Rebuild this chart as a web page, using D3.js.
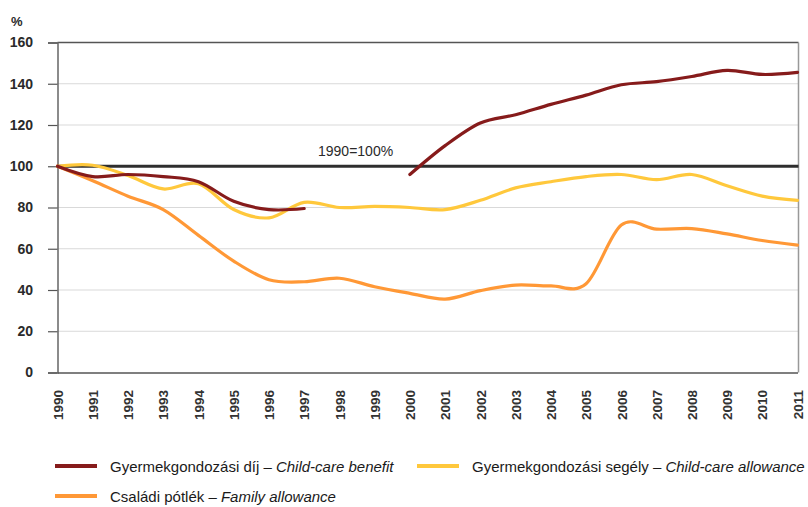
<!DOCTYPE html>
<html><head><meta charset="utf-8">
<script src="https://cdn.jsdelivr.net/npm/d3@7"></script>
<style>
body{margin:0;background:#fff;}
svg{display:block;font-family:"Liberation Sans",Arial,sans-serif;}
</style></head>
<body><svg id="c" width="808" height="507"></svg>
<script>
const years = [1990,1991,1992,1993,1994,1995,1996,1997,1998,1999,2000,2001,2002,2003,2004,2005,2006,2007,2008,2009,2010,2011];
const childCareBenefit = [100,95,96,95,92.5,83,79,79.5,null,null,96,110,121,125,130,134.5,139.5,141,143.5,146.5,144.5,145.5];
const childCareAllowance = [100,100.5,95.5,89,91.5,79,75,82.5,80,80.5,80,79,83.5,89.5,92.5,95,96,93.5,96,90.5,85.5,83.5];
const familyAllowance = [100,93,85.5,79,66.5,54,45,44,45.7,41.6,38.4,35.6,39.7,42.4,42,43,71.5,69.5,69.8,67.2,64,61.8];
const yTicks = [0,20,40,60,80,100,120,140,160];
const seriesNames = ["Gyermekgondozási díj – ","Gyermekgondozási segély – ","Családi pótlék – "];
const seriesNamesEn = ["Child-care benefit","Child-care allowance","Family allowance"];
const colors = ["#861b1b","#ffc83c","#ff9836"];

const svg = d3.select("#c");
const L=57.5, R=797.5, T=42.5, B=372.5;
const x = d3.scalePoint().domain(years).range([L,R]);
const y = d3.scaleLinear().domain([0,160]).range([B,T]);

// gridlines
svg.append("g").selectAll("line").data(yTicks.filter(d=>d>0 && d<160)).join("line")
  .attr("x1",L).attr("x2",R+1).attr("y1",d=>y(d)).attr("y2",d=>y(d))
  .attr("stroke","#d9d9d9").attr("stroke-width",1.2);

// frame
svg.append("line").attr("x1",L).attr("x2",R+1).attr("y1",T).attr("y2",T).attr("stroke","#555").attr("stroke-width",1.3);
svg.append("line").attr("x1",R+1).attr("x2",R+1).attr("y1",T).attr("y2",B).attr("stroke","#999").attr("stroke-width",1.5);

// y axis
const yAxis = d3.axisLeft(y).tickValues(yTicks).tickSize(9.5).tickPadding(15).tickFormat(d3.format("d"));
const ga = svg.append("g").attr("transform",`translate(${L},0)`).call(yAxis);
ga.select(".domain").attr("stroke","#666").attr("stroke-width",1.5);
ga.selectAll(".tick line").attr("stroke","#555").attr("stroke-width",1.2);
ga.selectAll(".tick text").attr("font-size",14).attr("font-weight","bold").attr("fill","#2a2a2a").attr("font-family","Liberation Sans, Arial");

// x axis
const xAxis = d3.axisBottom(x).tickSize(0).tickPadding(0);
const gx = svg.append("g").attr("transform",`translate(0,${B})`).call(xAxis);
gx.select(".domain").attr("stroke","#555").attr("stroke-width",1.5);
gx.selectAll(".tick text").attr("font-size",13.5).attr("font-weight","bold").attr("fill","#333")
  .attr("font-family","Liberation Sans, Arial")
  .attr("text-anchor","end").attr("transform","rotate(-90)")
  .attr("x",-17.5).attr("y",0).attr("dy","0.35em");

// % label
svg.append("text").attr("x",11).attr("y",26).attr("font-size",13).attr("font-weight","bold").attr("fill","#2a2a2a").text("%");

// 100% reference line
svg.append("line").attr("x1",L).attr("x2",R+1).attr("y1",y(100)).attr("y2",y(100)).attr("stroke","#2e2e2e").attr("stroke-width",3);
svg.append("text").attr("x",318).attr("y",155.5).attr("font-size",14).attr("fill","#2a2a2a").text("1990=100%");

// lines
const line = d3.line().defined(d=>d[1]!=null).x(d=>x(d[0])).y(d=>y(d[1])).curve(d3.curveCardinal.tension(0));
const series = [childCareBenefit, childCareAllowance, familyAllowance];
const order = [2,1,0];
order.forEach(i=>{
  svg.append("path").datum(years.map((yr,j)=>[yr,series[i][j]]))
    .attr("d",line).attr("fill","none").attr("stroke",colors[i]).attr("stroke-width",3.2)
    .attr("stroke-linejoin","round").attr("stroke-linecap","round");
});

// legend
const leg = [{x:55,y:466,i:0},{x:417,y:466,i:1},{x:55,y:496,i:2}];
leg.forEach(l=>{
  svg.append("line").attr("x1",l.x).attr("x2",l.x+42).attr("y1",l.y).attr("y2",l.y).attr("stroke",colors[l.i]).attr("stroke-width",4);
  const t = svg.append("text").attr("x",l.x+55).attr("y",l.y+5.5).attr("font-size",15).attr("fill","#1a1a1a");
  t.append("tspan").text(seriesNames[l.i]);
  t.append("tspan").attr("font-style","italic").text(seriesNamesEn[l.i]);
});
</script></body></html>
